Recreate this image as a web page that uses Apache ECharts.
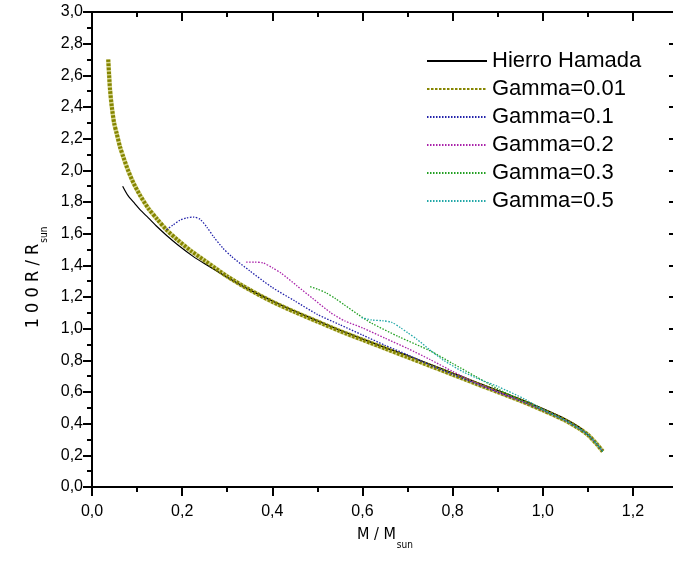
<!DOCTYPE html>
<html><head><meta charset="utf-8">
<script src="https://cdn.jsdelivr.net/npm/echarts@6/dist/echarts.min.js"></script>
<style>html,body{margin:0;padding:0;background:#fff}#c{width:673px;height:569px}</style>
</head><body><div id="c"></div>
<script>
// ---- data ----
const seriesNames = ['Hierro Hamada', 'Gamma=0.01', 'Gamma=0.1', 'Gamma=0.2', 'Gamma=0.3', 'Gamma=0.5'];

const hamadaM = [0.068,0.08,0.095,0.107,0.125,0.144,0.165,0.19,0.225,0.25,0.30,0.35,0.40,0.45,0.50,0.55,0.60,0.65,0.70,0.75,0.80,0.85,0.90,0.95,1.00,1.05,1.08,1.107];
const hamadaR = [1.90,1.84,1.79,1.75,1.70,1.645,1.59,1.53,1.455,1.41,1.325,1.245,1.175,1.11,1.05,0.99,0.935,0.88,0.83,0.775,0.72,0.665,0.61,0.555,0.495,0.43,0.38,0.31];

const g001M = [0.036,0.038,0.040,0.044,0.049,0.055,0.062,0.070,0.080,0.092,0.107,0.125,0.145,0.165,0.19,0.22,0.25,0.30,0.35,0.40,0.45,0.50,0.55,0.60,0.65,0.70,0.75,0.80,0.85,0.90,0.95,1.00,1.05,1.08,1.10,1.12,1.133];
const g001R = [2.70,2.60,2.51,2.40,2.30,2.23,2.15,2.08,2.00,1.92,1.84,1.76,1.69,1.625,1.56,1.49,1.43,1.33,1.245,1.17,1.105,1.045,0.985,0.93,0.875,0.82,0.765,0.71,0.655,0.60,0.545,0.485,0.42,0.37,0.33,0.27,0.225];

const g01M = [0.165,0.18,0.195,0.21,0.225,0.24,0.255,0.27,0.29,0.31,0.35,0.40,0.45,0.50,0.55,0.60,0.65,0.70,0.75,0.80,0.85,0.90,0.95,1.00,1.05,1.08,1.10,1.12,1.133];
const g01R = [1.625,1.655,1.685,1.70,1.705,1.69,1.64,1.58,1.51,1.455,1.365,1.26,1.175,1.09,1.025,0.96,0.895,0.835,0.77,0.712,0.655,0.60,0.545,0.485,0.42,0.37,0.33,0.27,0.225];

const g02M = [0.342,0.36,0.38,0.40,0.42,0.455,0.49,0.53,0.56,0.60,0.65,0.70,0.75,0.80,0.85,0.90,0.95,1.00,1.05,1.08,1.10,1.12,1.133];
const g02R = [1.42,1.42,1.415,1.385,1.35,1.27,1.19,1.10,1.05,1.005,0.94,0.875,0.805,0.73,0.66,0.60,0.545,0.485,0.42,0.37,0.33,0.27,0.225];

const g03M = [0.484,0.50,0.52,0.54,0.56,0.59,0.62,0.68,0.75,0.80,0.85,0.90,0.95,1.00,1.05,1.08,1.10,1.12,1.133];
const g03R = [1.265,1.25,1.225,1.19,1.15,1.09,1.035,0.95,0.86,0.78,0.70,0.62,0.55,0.485,0.42,0.37,0.33,0.27,0.225];

const g05M = [0.598,0.62,0.645,0.665,0.685,0.70,0.72,0.75,0.78,0.825,0.86,0.90,0.96,1.00,1.05,1.08,1.10,1.12,1.133];
const g05R = [1.07,1.055,1.05,1.04,1.005,0.975,0.935,0.865,0.80,0.725,0.68,0.635,0.555,0.49,0.42,0.37,0.33,0.27,0.225];

const xMin = 0, xMax = 1.3, xMajor = 0.2, xMinor = 0.1;
const yMin = 0, yMax = 3.0, yMajor = 0.2;

// ---- build ----
const zip = (a, b) => a.map((v, i) => [v, b[i]]);
const FONT = '"Liberation Sans", Arial, sans-serif';
const NARROW = '"Liberation Sans Narrow", "DejaVu Sans Condensed", "Liberation Sans", sans-serif';
const comma = v => v.toFixed(1).replace('.', ',');
const isMul = (v, s) => Math.abs(v / s - Math.round(v / s)) < 1e-6;

const chart = echarts.init(document.getElementById('c'), null, {renderer: 'canvas'});

const lineAx = {show: true, onZero: false, lineStyle: {color: '#000', width: 2}};
const tick = (len, inside) => ({show: true, inside: inside, length: len, lineStyle: {color: '#000', width: 2}});

function xAx(position, interval, len, inside, labels, extra) {
  return Object.assign({
    type: 'value', position: position, min: xMin, max: xMax, interval: interval,
    axisLine: lineAx, axisTick: tick(len, inside), splitLine: {show: false},
    axisLabel: labels ? {show: true, color: '#000', fontSize: 16, fontFamily: FONT, margin: 17,
      formatter: v => (isMul(v, xMajor) && v <= 1.2 + 1e-9) ? comma(v) : ''} : {show: false}
  }, extra || {});
}
function yAx(position, inside, labels, extra) {
  return Object.assign({
    type: 'value', position: position, min: yMin, max: yMax, interval: yMajor,
    axisLine: lineAx, axisTick: tick(9, inside),
    minorTick: {show: true, splitNumber: 2, length: 5, lineStyle: {color: '#000', width: 2}},
    splitLine: {show: false},
    axisLabel: labels ? {show: true, color: '#000', fontSize: 16, fontFamily: FONT, margin: 9, formatter: comma} : {show: false}
  }, extra || {});
}

const colors = ['#000000', '#858500', '#2222aa', '#aa22aa', '#22a022', '#22a8a8'];
const dataSets = [zip(hamadaM, hamadaR), zip(g001M, g001R), zip(g01M, g01R), zip(g02M, g02R), zip(g03M, g03R), zip(g05M, g05R)];
const styles = [
  {width: 1.2, type: 'solid'},
  {width: 4, type: [2.5, 1.5]},
  {width: 1.3, type: [1.5, 1.5]},
  {width: 1.3, type: [1.5, 1.5]},
  {width: 1.3, type: [1.5, 1.5]},
  {width: 1.3, type: [1.5, 1.5]}
];

const subRich = size => ({
  a: {fontSize: size, fontFamily: NARROW, color: '#000', lineHeight: 22, verticalAlign: 'bottom'},
  s: {fontSize: 10, fontFamily: NARROW, color: '#000', lineHeight: 10, verticalAlign: 'bottom', padding: [0, 0, -7, 1]}
});

const mainSeries = seriesNames.map((n, i) => ({
  name: n, type: 'line', xAxisIndex: 0, yAxisIndex: 0,
  data: dataSets[i], symbol: 'none', showSymbol: false, smooth: 0.25,
  color: colors[i],
  lineStyle: Object.assign({color: colors[i], cap: 'butt'}, styles[i]),
  z: 3 + i
}));
// light halo under the thick dotted Gamma=0.01 curve (same data)
const halo = {
  name: 'Gamma=0.01 halo', type: 'line', xAxisIndex: 0, yAxisIndex: 0,
  data: dataSets[1], symbol: 'none', showSymbol: false, smooth: 0.25, silent: true,
  lineStyle: {color: '#d6d690', width: 4.5}, z: 2
};

chart.setOption({
  animation: false,
  backgroundColor: '#fff',
  grid: {left: 92, top: 12, width: 586, height: 475, containLabel: false, outerBoundsMode: 'none'},
  legend: {
    orient: 'vertical', left: 421, top: 45, itemWidth: 60, itemHeight: 14, itemGap: 6,
    itemStyle: {opacity: 0},
    textStyle: {fontSize: 22, fontFamily: FONT, color: '#000', lineHeight: 22},
    data: seriesNames
  },
  xAxis: [
    xAx('bottom', xMajor, 9, false, true, {
      name: '{a|M / M}{s|sun}', nameLocation: 'middle', nameGap: 34,
      nameTextStyle: {rich: subRich(16)}
    }),
    xAx('bottom', xMinor, 5, false, false, {axisLine: {show: false, onZero: false}}),
    xAx('top', xMajor, 9, true, false),
    xAx('top', xMinor, 5, true, false, {axisLine: {show: false, onZero: false}})
  ],
  yAxis: [
    yAx('left', false, true, {
      name: '{a|1 0 0 R / R}{s|sun}', nameLocation: 'middle', nameGap: 50,
      nameTextStyle: {rich: subRich(18), padding: [0, 56, 0, 0]}
    }),
    yAx('right', true, false)
  ],
  series: [halo].concat(mainSeries)
});
</script></body></html>
